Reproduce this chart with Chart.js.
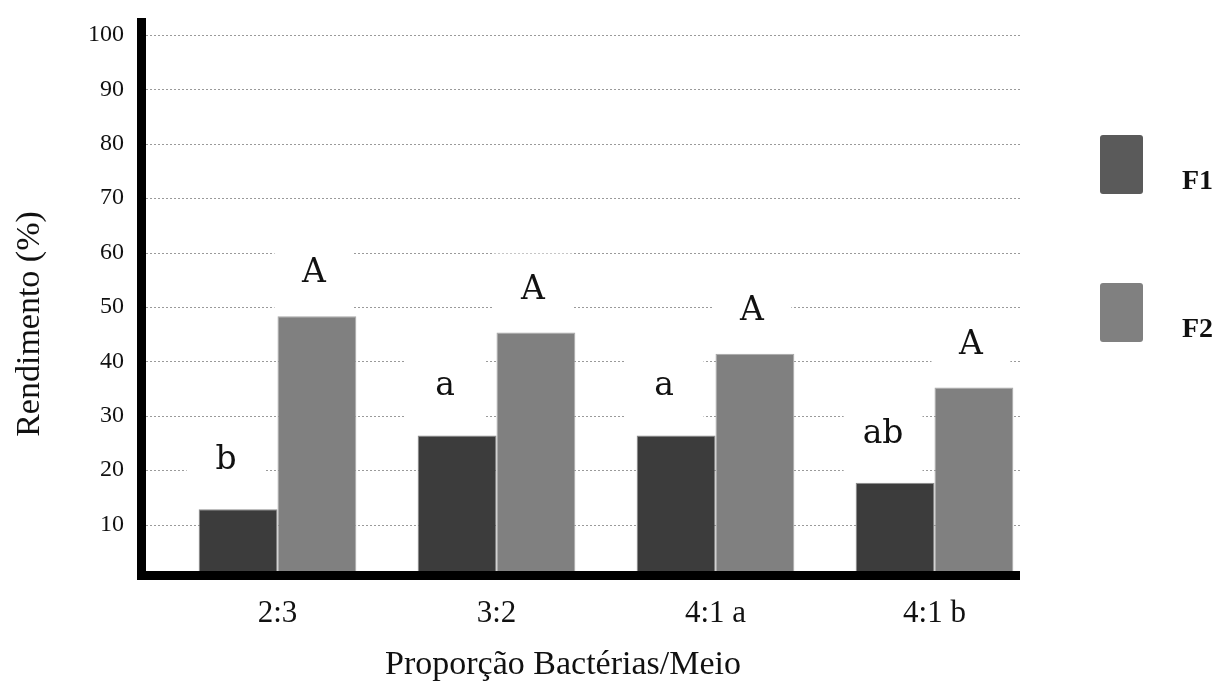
<!DOCTYPE html>
<html>
<head>
<meta charset="utf-8">
<script src="https://cdn.jsdelivr.net/npm/chart.js@4/dist/chart.umd.min.js"></script>
<style>
  html, body { margin: 0; padding: 0; background: #ffffff; }
  #wrap { width: 1216px; height: 684px; }
</style>
</head>
<body>
<div id="wrap"><canvas id="chart" width="1216" height="684"></canvas></div>
<script>
// Rendimento (%) per proportion of bacteria to medium, for F1 and F2
const categories = ['2:3', '3:2', '4:1 a', '4:1 b'];
const seriesNames = ['F1', 'F2'];
const f1Values = [12.8, 26.4, 26.4, 17.7];
const f2Values = [48.3, 45.3, 41.4, 35.2];
const f1Letters = ['b', 'a', 'a', 'ab'];
const f2Letters = ['A', 'A', 'A', 'A'];
const yTickValues = [10, 20, 30, 40, 50, 60, 70, 80, 90, 100];
const yTitle = 'Rendimento (%)';
const xTitle = 'Proporção Bactérias/Meio';

const barColors = ['#3c3c3c', '#808080'];
const legendColors = ['#5a5a5a', '#808080'];
const letterSets = [f1Letters, f2Letters];

const SERIF = '"Liberation Serif", "Times New Roman", serif';
const LETTER_FONT = '33px "DejaVu Serif", serif';

// plot frame (axis lines and dotted guides stop at the frame, not at the bar area edge)
const FRAME_LEFT = 146;
const FRAME_RIGHT = 1020;
const FRAME_TOP = 18;
const AXIS_W = 9;

const letterLift = [40, 34];
const letterShift = [12, 3];

const decor = {
  id: 'decor',
  beforeDraw(chart) {
    const ctx = chart.ctx;
    ctx.save();
    ctx.fillStyle = '#ffffff';
    ctx.fillRect(0, 0, chart.width, chart.height);
    ctx.restore();
  },
  beforeDatasetsDraw(chart) {
    const ctx = chart.ctx;
    const y = chart.scales.y;
    ctx.save();
    // dotted guide lines
    ctx.strokeStyle = '#9a9a9a';
    ctx.lineWidth = 1;
    ctx.setLineDash([2, 2]);
    yTickValues.forEach(v => {
      const py = Math.round(y.getPixelForValue(v)) + 0.5;
      ctx.beginPath();
      ctx.moveTo(FRAME_LEFT, py);
      ctx.lineTo(FRAME_RIGHT, py);
      ctx.stroke();
    });
    ctx.setLineDash([]);
    // white backing behind the letter labels
    ctx.fillStyle = '#ffffff';
    ctx.font = LETTER_FONT;
    chart.data.datasets.forEach((ds, di) => {
      const meta = chart.getDatasetMeta(di);
      meta.data.forEach((bar, i) => {
        const txt = letterSets[di][i];
        const w = Math.max(bar.width, ctx.measureText(txt).width + 24);
        const base = bar.y - letterLift[di];
        const cx = bar.x - letterShift[di];
        ctx.fillRect(cx - w / 2, base - 45, w, bar.y - (base - 45));
      });
    });
    ctx.restore();
  },
  afterDatasetsDraw(chart) {
    const ctx = chart.ctx;
    const y = chart.scales.y;
    const zero = y.getPixelForValue(0);
    ctx.save();
    // heavy black axes
    ctx.fillStyle = '#000000';
    ctx.fillRect(FRAME_LEFT - AXIS_W, FRAME_TOP, AXIS_W, zero - FRAME_TOP + 1);
    ctx.fillRect(FRAME_LEFT - AXIS_W, zero - AXIS_W + 1, FRAME_RIGHT - FRAME_LEFT + AXIS_W, AXIS_W);
    // letter labels above bars
    ctx.fillStyle = '#111111';
    ctx.font = LETTER_FONT;
    ctx.textAlign = 'center';
    ctx.textBaseline = 'alphabetic';
    chart.data.datasets.forEach((ds, di) => {
      const meta = chart.getDatasetMeta(di);
      meta.data.forEach((bar, i) => {
        ctx.fillText(letterSets[di][i], bar.x - letterShift[di], bar.y - letterLift[di]);
      });
    });
    ctx.restore();
  },
  afterDraw(chart) {
    const ctx = chart.ctx;
    ctx.save();
    // axis titles
    ctx.fillStyle = '#111111';
    ctx.font = '34px ' + SERIF;
    ctx.textAlign = 'center';
    ctx.textBaseline = 'middle';
    ctx.save();
    ctx.translate(30, 324);
    ctx.rotate(-Math.PI / 2);
    ctx.fillText(yTitle, 0, 0);
    ctx.restore();
    ctx.font = '34px ' + SERIF;
    ctx.textBaseline = 'alphabetic';
    ctx.fillText(xTitle, 563, 674);
    // legend
    const boxes = [[1100, 135], [1100, 283]];
    ctx.font = 'bold 28px ' + SERIF;
    ctx.textAlign = 'left';
    seriesNames.forEach((name, i) => {
      const [bx, by] = boxes[i];
      ctx.fillStyle = legendColors[i];
      ctx.beginPath();
      ctx.roundRect(bx, by, 43, 59, 3);
      ctx.fill();
      ctx.fillStyle = '#111111';
      ctx.fillText(name, 1182, by + 54);
    });
    ctx.restore();
  }
};

new Chart(document.getElementById('chart'), {
  type: 'bar',
  data: {
    labels: categories,
    datasets: [
      { label: seriesNames[0], data: f1Values, backgroundColor: barColors[0],
        borderColor: '#8c8c8c', borderWidth: { top: 1, left: 1, right: 1, bottom: 0 } },
      { label: seriesNames[1], data: f2Values, backgroundColor: barColors[1],
        borderColor: '#a8a8a8', borderWidth: { top: 1, left: 1, right: 1, bottom: 0 } }
    ]
  },
  options: {
    responsive: false,
    animation: false,
    devicePixelRatio: 1,
    layout: { padding: { top: 35, right: 172, left: 0, bottom: 0 } },
    plugins: { legend: { display: false }, tooltip: { enabled: false } },
    datasets: { bar: { barPercentage: 1, categoryPercentage: 0.72 } },
    scales: {
      x: {
        type: 'category',
        offset: true,
        grid: { display: false, drawTicks: false },
        border: { display: false },
        ticks: {
          color: '#111111',
          font: { family: SERIF, size: 31 },
          padding: 16,
          maxRotation: 0
        },
        afterFit(scale) { scale.height = 105; }
      },
      y: {
        min: 0,
        max: 100,
        grid: { display: false, drawTicks: false },
        border: { display: false },
        afterBuildTicks(scale) { scale.ticks = yTickValues.map(v => ({ value: v })); },
        ticks: {
          color: '#111111',
          font: { family: SERIF, size: 24 },
          padding: 44
        },
        afterFit(scale) {
          scale.width = 168;
          scale.paddingTop = 0;
          scale.paddingBottom = 0;
        }
      }
    }
  },
  plugins: [decor]
});
</script>
</body>
</html>
